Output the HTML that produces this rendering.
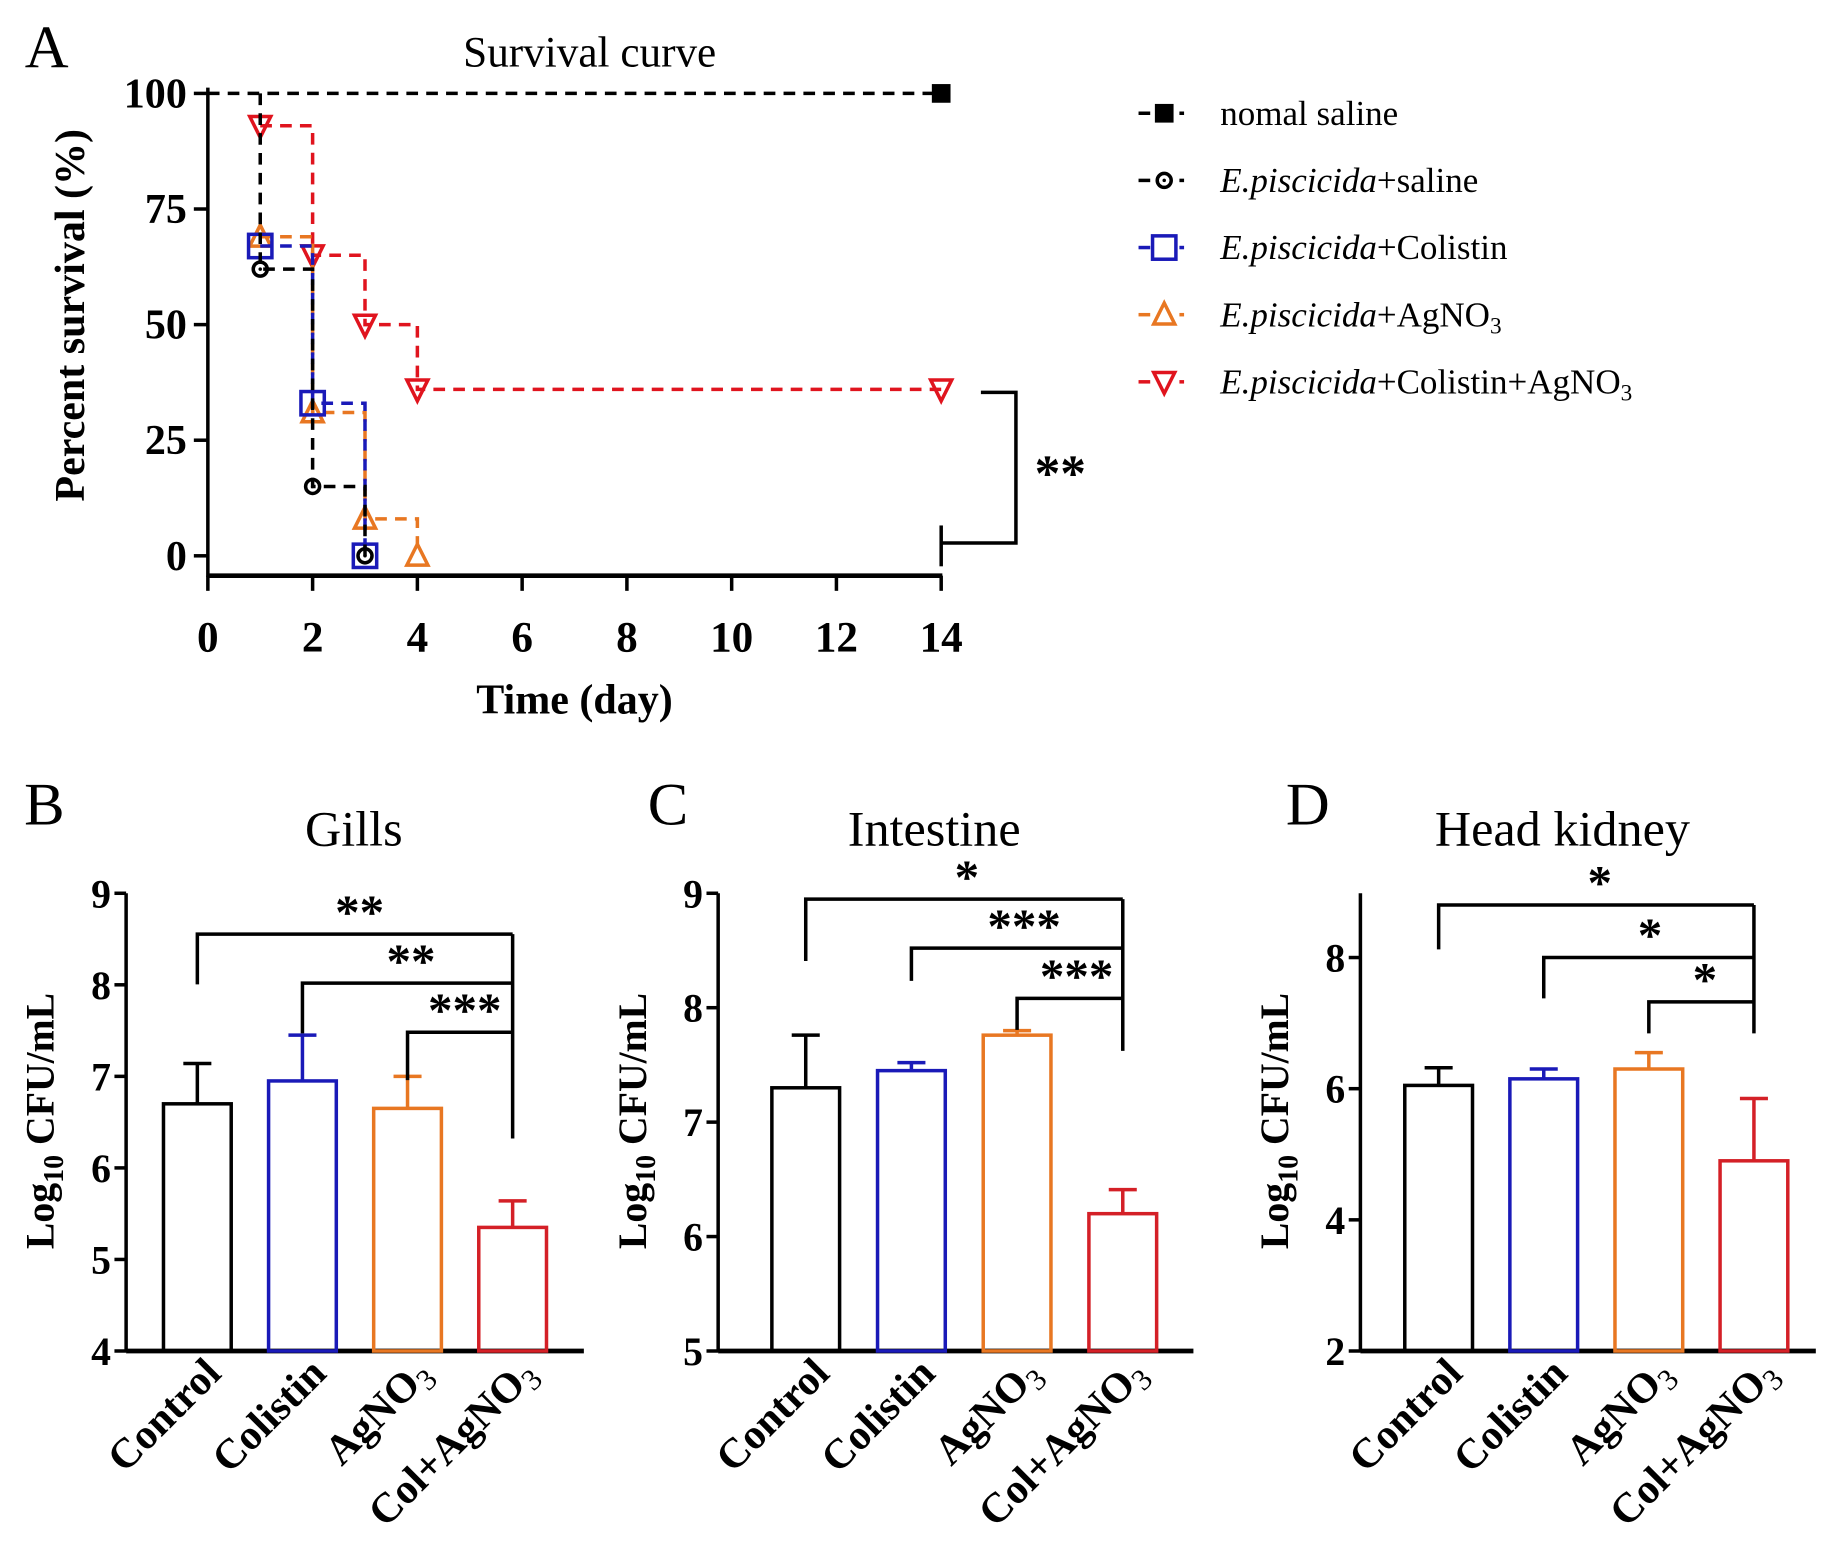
<!DOCTYPE html>
<html><head><meta charset="utf-8">
<style>
html,body{margin:0;padding:0;background:#fff;}
svg{display:block;font-family:"Liberation Serif",serif;}
</style></head>
<body>
<svg id="fig" width="1831" height="1553" viewBox="0 0 1568 1330" preserveAspectRatio="none" xmlns="http://www.w3.org/2000/svg">
<rect width="1568" height="1330" fill="#fff"/>
<g id="pa"></g>
<g id="pb"></g>
<g id="pc"></g>
<g id="pd"></g>
</svg>
<script>
// ---- Survival data ----
const survSeriesNames = ["nomal saline","E.piscicida+saline","E.piscicida+Colistin","E.piscicida+AgNO3","E.piscicida+Colistin+AgNO3"];
const survNormal = [[0,100],[14,100]];
const survSaline = [[1,100],[1,62],[2,15],[3,0]];
const survColistin = [[1,67],[2,33],[3,0]];
const survAg = [[1,69],[2,31],[3,8],[4,0]];
const survCombo = [[1,93],[2,65],[3,50],[4,36],[14,36]];
const survXTicks = [0,2,4,6,8,10,12,14];
const survYTicks = [0,25,50,75,100];
// ---- Bar data ----
const barCats = ["Control","Colistin","AgNO3","Col+AgNO3"];
const gillsMean = [6.7,6.95,6.65,5.35];
const gillsErr = [7.14,7.45,7.0,5.64];
const gillsTicks = [4,5,6,7,8,9];
const intMean = [7.3,7.45,7.76,6.2];
const intErr = [7.76,7.52,7.8,6.41];
const intTicks = [5,6,7,8,9];
const hkMean = [6.05,6.15,6.3,4.9];
const hkErr = [6.32,6.3,6.55,5.85];
const hkTicks = [2,4,6,8];

const NS="http://www.w3.org/2000/svg";
function mk(parent,tag,attrs,text){const e=document.createElementNS(NS,tag);for(const k in attrs)e.setAttribute(k,attrs[k]);if(text!==undefined)e.textContent=text;parent.appendChild(e);return e;}

// ---- Panel A ----
const A=document.getElementById('pa');
const ax=d=>178+d*(806-178)/14, ay=v=>476-v*(476-80)/100;
let t;
t=mk(A,'text',{x:40,y:58,'font-size':52,'text-anchor':'middle'},'A');
t=mk(A,'text',{x:505,y:57,'font-size':37,'text-anchor':'middle'},'Survival curve');
let g=mk(A,'g',{});
mk(g,'line',{x1:178,y1:75,x2:178,y2:494,stroke:'#000','stroke-width':3});
survYTicks.forEach(v=>{mk(g,'line',{x1:166,y1:ay(v),x2:178,y2:ay(v),stroke:'#000','stroke-width':3});
 const l=mk(g,'text',{x:160,y:ay(v)+12,'font-size':36,'font-weight':'bold','text-anchor':'end'},String(v));});
g=mk(A,'g',{});
mk(g,'line',{x1:177,y1:493,x2:807,y2:493,stroke:'#000','stroke-width':4});
survXTicks.forEach(d=>{mk(g,'line',{x1:ax(d),y1:493,x2:ax(d),y2:506,stroke:'#000','stroke-width':3});
 const l=mk(g,'text',{x:ax(d),y:558,'font-size':37,'font-weight':'bold','text-anchor':'middle'},String(d));});
t=mk(A,'text',{x:492,y:611,'font-size':36,'font-weight':'bold','text-anchor':'middle'},'Time (day)');
t=mk(A,'text',{x:0,y:0,'font-size':36,'font-weight':'bold','text-anchor':'middle',transform:'translate(72,270) rotate(-90)'},'Percent survival (%)');

function marker(p,type,x,y,color){
 if(type==='sq') mk(p,'rect',{x:x-8,y:y-8,width:16,height:16,fill:'#000'});
 if(type==='circ'){mk(p,'circle',{cx:x,cy:y,r:6,fill:'none',stroke:color,'stroke-width':3});mk(p,'circle',{cx:x,cy:y,r:1.5,fill:color});}
 if(type==='osq') mk(p,'rect',{x:x-10,y:y-10,width:20,height:20,fill:'none',stroke:color,'stroke-width':3});
 if(type==='tri') mk(p,'path',{d:`M${x},${y-10}L${x+9},${y+8}L${x-9},${y+8}Z`,fill:'none',stroke:color,'stroke-width':3});
 if(type==='itri') mk(p,'path',{d:`M${x},${y+10}L${x+9},${y-8}L${x-9},${y-8}Z`,fill:'none',stroke:color,'stroke-width':3});
}
const series=[
 {data:survNormal,c:'#000',m:'sq',name:'series-normal-saline',li:0,mk:[1]},
 {data:survCombo,c:'#e0141e',m:'itri',name:'series-colistin-agno3',li:4},
 {data:survAg,c:'#e87722',m:'tri',name:'series-agno3',li:3},
 {data:survColistin,c:'#1a1ab8',m:'osq',name:'series-colistin',li:2},
 {data:survSaline,c:'#000',m:'circ',name:'series-saline',li:1,skip:1}];
series.forEach((s)=>{
 const sg=mk(A,'g',{});
 let [x0,v0]=s.data[0];let pv=v0;let d=`M${ax(x0)},${ay(v0)}`;
 s.data.slice(1).forEach(([x,v])=>{d+=`L${ax(x)},${ay(pv)}L${ax(x)},${ay(v)}`;pv=v;});
 mk(sg,'path',{d:d,fill:'none',stroke:s.c,'stroke-width':3,'stroke-dasharray':'10,7'});
 s.data.forEach(([x,v],j)=>{if(s.mk&&s.mk.indexOf(j)<0)return;if(s.skip&&j<s.skip)return;marker(sg,s.m,ax(x),ay(v),s.c);});
 const i=s.li;
 const lg=mk(A,'g',{});
 const ly=97+i*57.5;
 mk(lg,'line',{x1:975,y1:ly,x2:985,y2:ly,stroke:s.c,'stroke-width':3});
 mk(lg,'line',{x1:1010,y1:ly,x2:1014,y2:ly,stroke:s.c,'stroke-width':3});
 marker(lg,s.m,997,ly,s.c);
 const tx=mk(lg,'text',{x:1045,y:ly+10,'font-size':30});
 const nm=survSeriesNames[i];
 if(i===0){tx.textContent=nm;}
 else{const parts=nm.split('+');mk(tx,'tspan',{'font-style':'italic'},parts[0]);
  parts.slice(1).forEach(p=>{if(p==='AgNO3'){mk(tx,'tspan',{},'+AgNO');mk(tx,'tspan',{'font-size':20,dy:6},'3');}else mk(tx,'tspan',{},'+'+p);});}
});
g=mk(A,'g',{});
mk(g,'path',{d:'M840,336L870,336L870,465L806,465',fill:'none',stroke:'#000','stroke-width':3});
mk(g,'line',{x1:806,y1:450,x2:806,y2:485,stroke:'#000','stroke-width':3});
mk(g,'text',{x:908,y:420,'font-size':44,'font-weight':'bold','text-anchor':'middle'},'**');

// ---- Bar panels ----
const colors=['#000','#1a1ab8','#e87722','#d42027'];
function barPanel(el,o){
 const yv=v=>1157-(v-o.min)*(1157-765)/(o.top-o.min);
 let t=mk(el,'text',{x:o.lx,y:706,'font-size':52,'text-anchor':'middle'},o.letter);
 t=mk(el,'text',{x:o.tx,y:724,'font-size':43,'text-anchor':'middle'},o.title);
 let g=mk(el,'g',{});
 mk(g,'line',{x1:o.x0,y1:765,x2:o.x0,y2:1158,stroke:'#000','stroke-width':3});
 o.ticks.forEach(v=>{mk(g,'line',{x1:o.x0-10,y1:yv(v),x2:o.x0,y2:yv(v),stroke:'#000','stroke-width':3});
  const l=mk(g,'text',{x:o.x0-13,y:yv(v)+12,'font-size':34,'font-weight':'bold','text-anchor':'end'},String(v));});
 const yt=mk(el,'text',{x:0,y:0,'font-size':34,'font-weight':'bold','text-anchor':'middle',transform:`translate(${o.x0-62},960) rotate(-90)`});
 
 mk(yt,'tspan',{},'Log');mk(yt,'tspan',{'font-size':24,dy:8},'10');mk(yt,'tspan',{dy:-8},' CFU/mL');
 mk(el,'line',{x1:o.x0,y1:1157,x2:o.x1,y2:1157,stroke:'#000','stroke-width':4});
 barCats.forEach((c,i)=>{
  const cx=o.c0+i*o.step, y=yv(o.mean[i]), ye=yv(o.err[i]);
  const bg=mk(el,'g',{});
  mk(bg,'rect',{x:cx-29,y:y,width:58,height:1157-y,fill:'none',stroke:colors[i],'stroke-width':3});
  mk(bg,'line',{x1:cx,y1:y,x2:cx,y2:ye,stroke:colors[i],'stroke-width':3});
  mk(bg,'line',{x1:cx-12,y1:ye,x2:cx+12,y2:ye,stroke:colors[i],'stroke-width':3});
  const lab=mk(el,'text',{x:0,y:0,'font-size':36,'font-weight':'bold','text-anchor':'end',transform:`translate(${cx+22},${1178}) rotate(-45)`});
  
  if(c.indexOf('AgNO3')>=0){mk(lab,'tspan',{},c.replace('AgNO3','AgNO'));mk(lab,'tspan',{'font-size':26,dy:7,'font-weight':'normal'},'3');}else lab.textContent=c;
 });
 o.br.forEach((b,k)=>{
  const gg=mk(el,'g',{});
  const sx=o.c0+k*o.step, ex=o.c0+3*o.step;
  mk(gg,'path',{d:`M${sx},${b[1]}L${sx},${b[0]}L${ex},${b[0]}`,fill:'none',stroke:'#000','stroke-width':3});
  mk(gg,'text',{x:b[2],y:b[0]-5,'font-size':42,'font-weight':'bold','text-anchor':'middle'},o.stars[k]);
 });
 mk(el,'line',{x1:o.c0+3*o.step,y1:o.br[0][0],x2:o.c0+3*o.step,y2:o.rEnd,stroke:'#000','stroke-width':3});
}
barPanel(document.getElementById('pb'),{letter:'B',lx:38,tx:303,title:'Gills',x0:108,x1:500,min:4,top:9,ticks:gillsTicks,mean:gillsMean,err:gillsErr,c0:169,step:90,
 br:[[800,843,308],[842,885,352],[884,925,398]],stars:['**','**','***'],rEnd:975});
barPanel(document.getElementById('pc'),{letter:'C',lx:572,tx:800,title:'Intestine',x0:615,x1:1022,min:5,top:9,ticks:intTicks,mean:intMean,err:intErr,c0:690,step:90.5,
 br:[[770,823,828],[812,840,877],[855,882,922]],stars:['*','***','***'],rEnd:900});
barPanel(document.getElementById('pd'),{letter:'D',lx:1120,tx:1338,title:'Head kidney',x0:1165,x1:1555,min:2,top:8.98,ticks:hkTicks,mean:hkMean,err:hkErr,c0:1232,step:90,
 br:[[775,813,1370],[820,855,1413],[858,885,1460]],stars:['*','*','*'],rEnd:885});
</script>
</body></html>
